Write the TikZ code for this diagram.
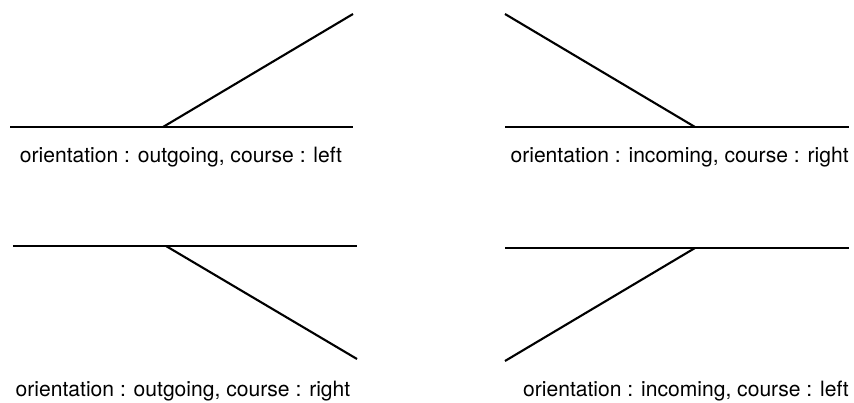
\documentclass[tikz,border=0pt]{standalone}
\usepackage{fontspec}
\setmainfont{TeX Gyre Heros}
\tikzset{
  every node/.style = {font=\fontsize{15}{18}\selectfont},
  trackline/.style  = {draw=black, line width=1.5pt},
  tracklab/.style   = {inner sep=0pt, anchor=center},
}

\begin{document}
\begin{tikzpicture}
\useasboundingbox (0,0) rectangle (21.35,10.075);

% four junction panels: left end, right end, junction, branch end, label
\foreach \i/\yl/\xa/\xb/\xj/\xe/\ye/\xt/\yt/\txt in {%
  1/6.9/0.25/8.825/4.075/8.825/9.725/4.525/6.15/{orientation : outgoing, course : left},
  2/6.9/12.625/21.225/17.375/12.625/9.725/16.99/6.15/{orientation : incoming, course : right},
  3/3.925/0.325/8.925/4.15/8.925/1.1/4.575/0.3/{orientation : outgoing, course : right},
  4/3.875/12.625/21.225/17.375/12.625/1.05/17.15/0.3/{orientation : incoming, course : left}%
}{
  \coordinate (L\i) at (\xa,\yl);
  \coordinate (R\i) at (\xb,\yl);
  \coordinate (J\i) at (\xj,\yl);
  \coordinate (E\i) at (\xe,\ye);
  \draw[trackline] (L\i) -- (R\i);
  \draw[trackline] (J\i) -- (E\i);
  \node[tracklab] (T\i) at (\xt,\yt) {\txt};
}
\end{tikzpicture}
\end{document}
